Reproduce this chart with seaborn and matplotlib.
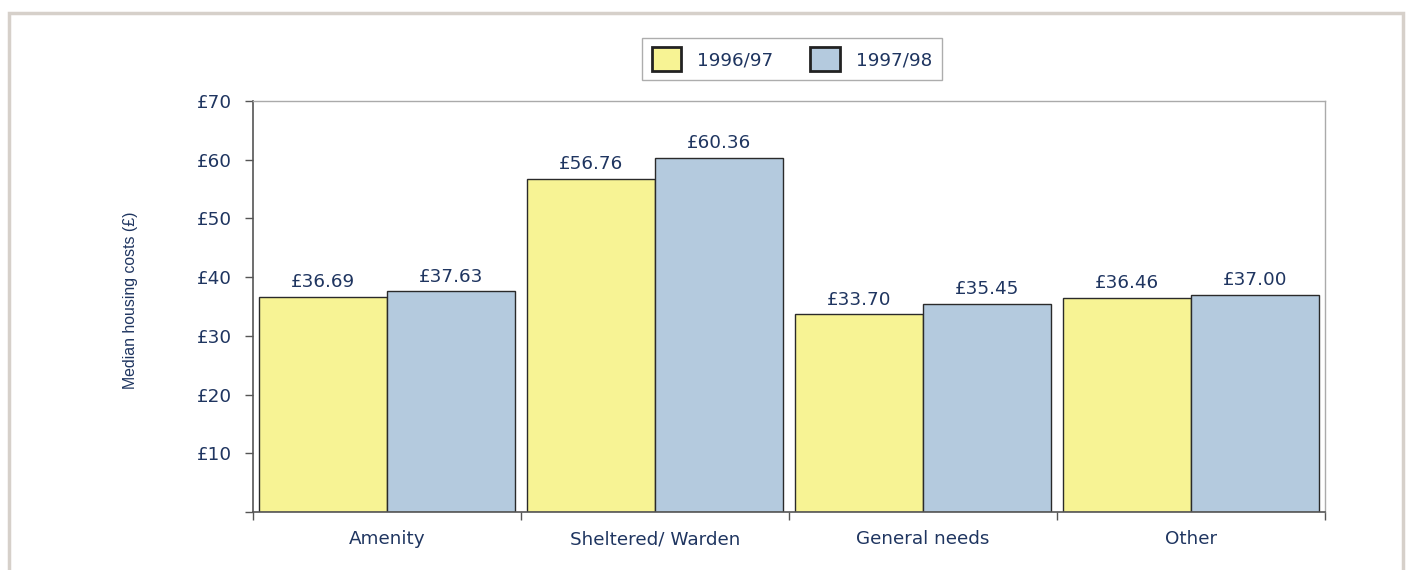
import matplotlib
matplotlib.use("Agg")
import matplotlib.pyplot as plt
import seaborn as sns
import pandas as pd
from matplotlib.patches import Rectangle
from matplotlib.ticker import FixedLocator, FuncFormatter

categories = ["Amenity", "Sheltered/ Warden", "General needs", "Other"]
series_names = ["1996/97", "1997/98"]
values_9697 = [36.69, 56.76, 33.70, 36.46]
values_9798 = [37.63, 60.36, 35.45, 37.00]

df = pd.DataFrame({
    "category": categories * 2,
    "year": [series_names[0]] * 4 + [series_names[1]] * 4,
    "value": values_9697 + values_9798,
})

sns.set_style("white")
plt.rcParams["font.family"] = ["DejaVu Sans"]
TXT = "#1f3560"
FS = 13.2

fig = plt.figure(figsize=(14.08, 5.70), dpi=100)
ax = fig.add_axes([253/1408, 58/570, (1325-253)/1408, (512-101)/570])

sns.barplot(data=df, x="category", y="value", hue="year", order=categories,
            hue_order=series_names, palette=["#f7f394", "#b4cade"],
            width=0.955, edgecolor="#2a2a2a", linewidth=1.0, saturation=1,
            ax=ax, legend=True)

for c in ax.containers:
    ax.bar_label(c, labels=[f"£{v:.2f}" for v in c.datavalues], padding=4,
                 fontsize=FS, color=TXT)

ax.set_xlim(-0.5, 3.5)
ax.set_ylim(0, 70)
ax.yaxis.set_major_locator(FixedLocator(range(0, 71, 10)))
ax.yaxis.set_major_formatter(FuncFormatter(lambda v, p: "" if v == 0 else f"£{v:.0f}"))
ax.set_xlabel("")
ax.set_ylabel("Median housing costs (£)", fontsize=11.4, color=TXT,
              family=["Liberation Sans", "DejaVu Sans"])
ax.yaxis.set_label_coords(130/1408, (570-300)/570, transform=fig.transFigure)
ax.yaxis.label.set_verticalalignment("center")

ax.xaxis.set_minor_locator(FixedLocator([-0.5, 0.5, 1.5, 2.5, 3.5]))
ax.tick_params(axis="x", which="major", length=0, pad=13, labelsize=FS, labelcolor=TXT)
ax.tick_params(axis="x", which="minor", length=6, width=1, color="#555555", direction="out", bottom=True)
ax.tick_params(axis="y", length=6, width=1, color="#555555", direction="out", left=True,
               labelsize=FS, labelcolor=TXT, pad=9)

for s in ["left", "bottom"]:
    ax.spines[s].set_color("#555555")
    ax.spines[s].set_linewidth(1.2)
for s in ["top", "right"]:
    ax.spines[s].set_color("#aaaaaa")
    ax.spines[s].set_linewidth(1.0)
    ax.spines[s].set_visible(True)

leg = ax.legend(loc="center", bbox_to_anchor=(792/1408, 1 - 59/570),
                bbox_transform=fig.transFigure, ncol=2, frameon=True,
                fontsize=FS, handlelength=1.6, handleheight=1.6,
                columnspacing=2.0, handletextpad=0.9, borderpad=0.5,
                fancybox=False, edgecolor="#999999")
for t in leg.get_texts():
    t.set_color(TXT)
for h in leg.legend_handles:
    h.set_edgecolor("#222222")
    h.set_linewidth(2.0)

fig.patches.append(Rectangle((9/1408, -0.05), (1403-9)/1408, 1.05 - 13/570,
                             transform=fig.transFigure, fill=False,
                             edgecolor="#d6d0ca", linewidth=2.5))

fig.savefig("out.png", dpi=100)
